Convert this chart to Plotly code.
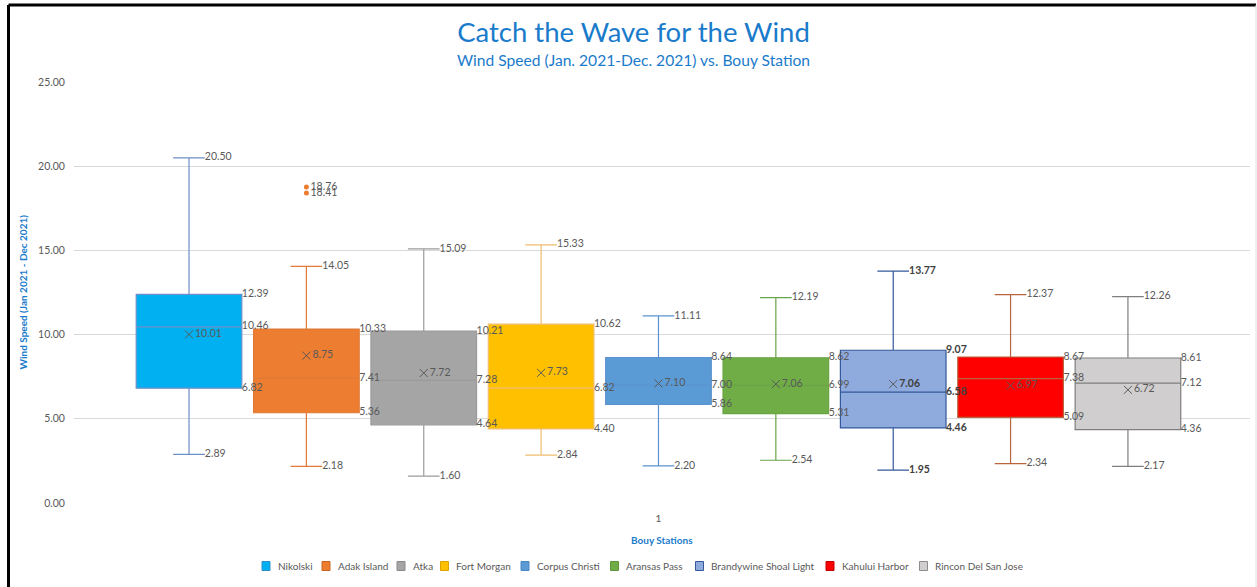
import plotly.graph_objects as go

# ---------------- data ----------------
stations = ["Nikolski", "Adak Island", "Atka", "Fort Morgan", "Corpus Christi",
            "Aransas Pass", "Brandywine Shoal Light", "Kahului Harbor", "Rincon Del San Jose"]
minimum = [2.89, 2.18, 1.60, 2.84, 2.20, 2.54, 1.95, 2.34, 2.17]
q1 = [6.82, 5.36, 4.64, 4.40, 5.86, 5.31, 4.46, 5.09, 4.36]
median = [10.46, 7.41, 7.28, 6.82, 7.00, 6.99, 6.58, 7.38, 7.12]
q3 = [12.39, 10.33, 10.21, 10.62, 8.64, 8.62, 9.07, 8.67, 8.61]
maximum = [20.50, 14.05, 15.09, 15.33, 11.11, 12.19, 13.77, 12.37, 12.26]
mean = [10.01, 8.75, 7.72, 7.73, 7.10, 7.06, 7.06, 6.97, 6.72]
outlier_station = "Adak Island"
outliers = [18.76, 18.41]
category_label = "1"

# ---------------- styles ----------------
fill_colors = ["#00B0F0", "#ED7D31", "#A5A5A5", "#FFC000", "#5B9BD5",
               "#70AD47", "#8FAADC", "#FF0000", "#D0CECE"]
line_colors = ["#6F8FC9", "#E07A35", "#9C9C9C", "#F0BE70", "#5B93CF",
               "#6AA545", "#34589A", "#B8653F", "#7F7F7F"]
legend_border = ["#2E8FD0", "#C9651F", "#8A8A8A", "#D9A400", "#4A86C0",
                 "#5B9639", "#34589A", "#C00000", "#8C8C8C"]
# legend icon left edges (px) - layout only
legend_icon_px = [262, 322, 397, 440.5, 521, 610.5, 695.5, 826, 919.5]
bold_station = "Brandywine Shoal Light"
FONT = "Lato, 'Open Sans', sans-serif"
LABEL_COLOR = "#595959"
TITLE_COLOR = "#1A7BCB"
BOX_W = 0.9
CAP_W = 0.3

# plot-area geometry (px) for paper conversions
L, R, T, B = 74, 7, 82, 84
PW, PH = 1257 - L - R, 587 - T - B


def px_x(px):
    return (px - L) / PW


def px_y(py):
    return 1 - (py - T) / PH


fig = go.Figure()
positions = list(range(len(stations)))

for i, name in enumerate(stations):
    p = positions[i]
    fig.add_trace(go.Box(
        name=name, x=[p], q1=[q1[i]], median=[median[i]], q3=[q3[i]],
        lowerfence=[minimum[i]], upperfence=[maximum[i]],
        width=BOX_W, whiskerwidth=CAP_W,
        fillcolor=fill_colors[i], line=dict(color=line_colors[i], width=1.2),
        boxpoints=False, hoverinfo="skip", showlegend=False,
    ))

for i, name in enumerate(stations):
    p = positions[i]
    bold = name == bold_station
    fmt = (lambda v: f"<b>{v:.2f}</b>") if bold else (lambda v: f"{v:.2f}")
    tcolor = "#404040" if bold else LABEL_COLOR
    fig.add_trace(go.Scatter(
        x=[p + BOX_W / 2] * 3, y=[q3[i], median[i], q1[i]],
        text=[fmt(v) for v in (q3[i], median[i], q1[i])],
        mode="text", textposition="middle right",
        textfont=dict(family=FONT, size=10.5, color=tcolor),
        showlegend=False, hoverinfo="skip", cliponaxis=False,
    ))
    fig.add_trace(go.Scatter(
        x=[p + BOX_W * CAP_W / 2] * 2, y=[maximum[i], minimum[i]],
        text=[fmt(v) for v in (maximum[i], minimum[i])],
        mode="text", textposition="middle right",
        textfont=dict(family=FONT, size=10.5, color=tcolor),
        showlegend=False, hoverinfo="skip", cliponaxis=False,
    ))
    fig.add_trace(go.Scatter(
        x=[p], y=[mean[i]], text=[fmt(mean[i])],
        mode="markers+text", textposition="middle right",
        marker=dict(symbol="x-thin", size=8, line=dict(color=LABEL_COLOR, width=1)),
        textfont=dict(family=FONT, size=10.5, color=tcolor),
        showlegend=False, hoverinfo="skip", cliponaxis=False,
    ))

oi = stations.index(outlier_station)
fig.add_trace(go.Scatter(
    x=[positions[oi]] * len(outliers), y=outliers,
    text=[f"{v:.2f}" for v in outliers],
    mode="markers+text", textposition="middle right",
    marker=dict(size=5, color=fill_colors[oi]),
    textfont=dict(family=FONT, size=10.5, color=LABEL_COLOR),
    showlegend=False, hoverinfo="skip",
))

# ---------------- legend (drawn as shapes + text) ----------------
annotations = []
shapes = []
leg_y = 566
for i, name in enumerate(stations):
    x0 = legend_icon_px[i]
    shapes.append(dict(type="rect", xref="paper", yref="paper",
                       x0=px_x(x0), x1=px_x(x0 + 8), y0=px_y(leg_y + 4.5), y1=px_y(leg_y - 4.5),
                       fillcolor=fill_colors[i], line=dict(color=legend_border[i], width=1)))
    annotations.append(dict(text=name, xref="paper", yref="paper", x=px_x(x0 + 13.5), y=px_y(leg_y),
                            xanchor="left", yanchor="middle", showarrow=False,
                            font=dict(family=FONT, size=10, color=LABEL_COLOR)))

annotations += [
    dict(text="Wind Speed (Jan. 2021-Dec. 2021) vs. Bouy Station", xref="paper", yref="paper",
         x=px_x(633.5), y=px_y(60), xanchor="center", yanchor="middle",
         showarrow=False, font=dict(family=FONT, size=15.6, color=TITLE_COLOR)),
    dict(text="<b>Wind Speed (Jan 2021 - Dec 2021)</b>", xref="paper", yref="paper",
         x=px_x(22), y=0.5, xanchor="center", yanchor="middle", textangle=-90,
         showarrow=False, font=dict(family=FONT, size=10, color=TITLE_COLOR)),
    dict(text="<b>Bouy Stations</b>", xref="paper", yref="paper",
         x=px_x(662), y=px_y(540), xanchor="center", yanchor="middle",
         showarrow=False, font=dict(family=FONT, size=10, color=TITLE_COLOR)),
]

top = px_y(5)
shapes += [
    dict(type="line", xref="paper", yref="paper", x0=px_x(8.5), x1=px_x(8.5),
         y0=-0.3, y1=top, line=dict(color="black", width=3)),
    dict(type="line", xref="paper", yref="paper", x0=px_x(8.5), x1=px_x(1256),
         y0=top, y1=top, line=dict(color="black", width=3)),
    dict(type="line", xref="paper", yref="paper", x0=px_x(1256), x1=px_x(1256),
         y0=-0.3, y1=top, line=dict(color="#E0E0E0", width=1)),
]

fig.update_layout(
    width=1257, height=587,
    margin=dict(l=L, r=R, t=T, b=B),
    paper_bgcolor="white", plot_bgcolor="white",
    font=dict(family=FONT, size=10, color=LABEL_COLOR),
    title=dict(text="Catch the Wave for the Wind", xref="container", x=633.5 / 1257,
               xanchor="center", yref="container", y=1 - 32 / 587, yanchor="middle",
               font=dict(family=FONT, size=27.5, color=TITLE_COLOR)),
    showlegend=False,
    xaxis=dict(range=[-0.98, 9.04], tickmode="array", tickvals=[sum(positions) / len(positions)],
               ticktext=[category_label], showgrid=False, zeroline=False, showline=False,
               ticks="outside", ticklen=6, tickcolor="rgba(0,0,0,0)",
               tickfont=dict(family=FONT, size=10, color=LABEL_COLOR)),
    yaxis=dict(range=[0, 25], dtick=5, tickformat=".2f", showgrid=True, gridcolor="#D9D9D9",
               gridwidth=1, zeroline=False, showline=False,
               ticks="outside", ticklen=6, tickcolor="rgba(0,0,0,0)",
               tickfont=dict(family=FONT, size=10.5, color=LABEL_COLOR)),
    annotations=annotations,
    shapes=shapes,
)

fig.write_html("out.html")
